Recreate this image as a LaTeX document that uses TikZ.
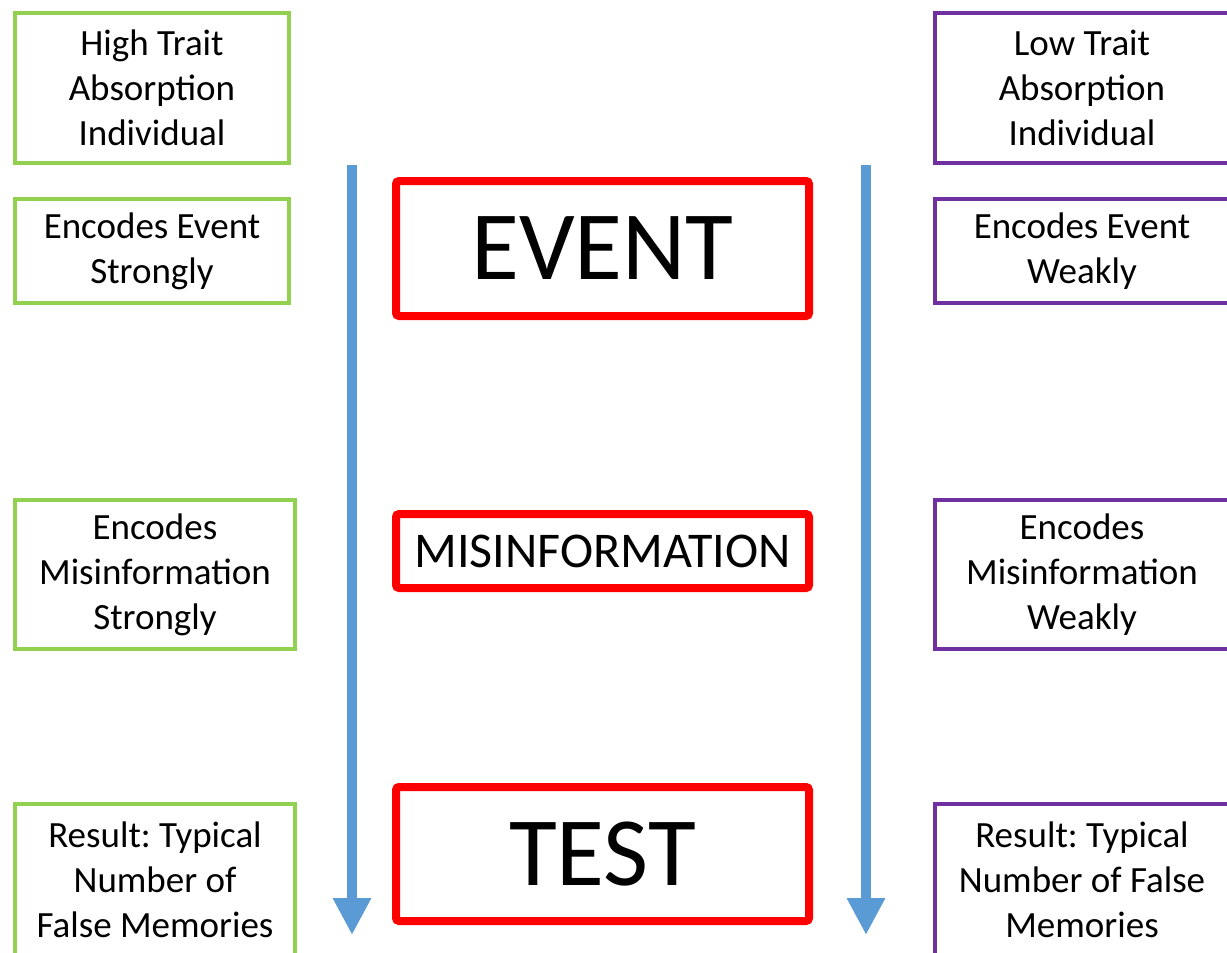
\documentclass[tikz,border=0pt]{standalone}
\usepackage{fontspec}
\setmainfont{Carlito}
\usetikzlibrary{arrows.meta}
\definecolor{hiGreen}{HTML}{92D050}
\definecolor{loPurple}{HTML}{7030A0}
\definecolor{flowBlue}{HTML}{5B9BD5}
\frenchspacing
\begin{document}
\begin{tikzpicture}[x=1pt,y=-1pt,
        hibox/.style={rectangle,draw=hiGreen,line width=4pt,align=center,inner sep=0pt,
                font=\fontsize{37}{45}\selectfont},
        lobox/.style={hibox,draw=loPurple},
        stage/.style={rectangle,draw=red,line width=8pt,rounded corners=3pt,inner sep=0pt,
                minimum width=413pt},
        flow/.style={draw=flowBlue,line width=10pt,-{Triangle[width=36pt,length=37pt]}}]
        \useasboundingbox (0,0) rectangle (1227,953);
        \clip (0,0) rectangle (1227,953);
        \node[hibox,minimum width=274pt,minimum height=150pt] (hi) at (152,88) {High Trait\\Absorption\\Individual};
        \node[hibox,minimum width=274pt,minimum height=104pt] (hiev) at (152,251) {Encodes Event\\Strongly};
        \node[hibox,minimum width=280pt,minimum height=149pt] (himis) at (155,574.5) {Encodes\\Misinformation\\Strongly};
        \node[hibox,minimum width=280pt,minimum height=152pt] (hires) at (155,880) {Result: Typical\\Number of\\False Memories};
        \node[lobox,minimum width=294pt,minimum height=150pt] (lo) at (1082,88) {Low Trait\\Absorption\\Individual};
        \node[lobox,minimum width=294pt,minimum height=104pt] (loev) at (1082,251) {Encodes Event\\Weakly};
        \node[lobox,minimum width=294pt,minimum height=149pt] (lomis) at (1082,574.5) {Encodes\\Misinformation\\Weakly};
        \node[lobox,minimum width=294pt,minimum height=152pt] (lores) at (1082,880) {Result: Typical\\Number of False\\Memories};
        \node[stage,minimum height=135pt,font=\fontsize{98}{110}\selectfont] (event) at (602.5,248.5) {EVENT};
        \node[stage,minimum height=74pt,font=\fontsize{50}{60}\selectfont] (misinfo) at (602.5,551) {MISINFORMATION};
        \node[stage,minimum height=134pt,font=\fontsize{98}{110}\selectfont] (test) at (602.5,854) {TEST};
        \coordinate (hitop) at (352,165);
        \coordinate (hiend) at (352,935);
        \coordinate (lotop) at (866,165);
        \coordinate (loend) at (866,935);
        \draw[flow] (hitop) -- (hiend);
        \draw[flow] (lotop) -- (loend);
\end{tikzpicture}
\end{document}
